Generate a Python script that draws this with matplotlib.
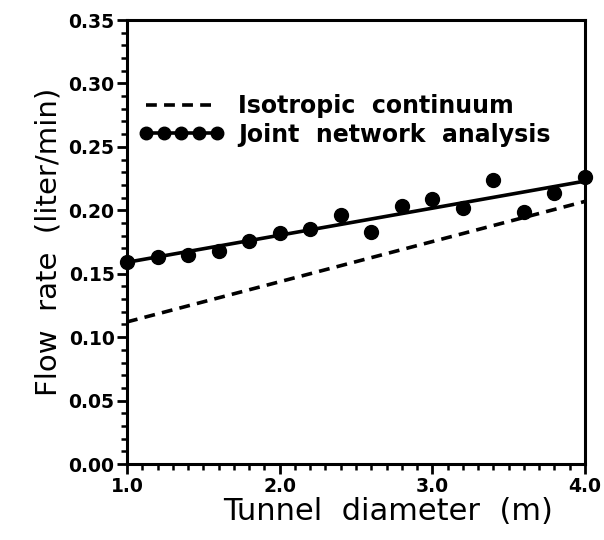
import numpy as np
import matplotlib.pyplot as plt
from matplotlib.ticker import MultipleLocator, FormatStrFormatter

# datos
diametro = [1.0, 1.2, 1.4, 1.6, 1.8, 2.0, 2.2, 2.4, 2.6, 2.8, 3.0, 3.2, 3.4, 3.6, 3.8, 4.0]
flujo_red = [0.159, 0.163, 0.165, 0.168, 0.176, 0.182, 0.185, 0.196, 0.183,
             0.203, 0.209, 0.202, 0.224, 0.199, 0.214, 0.226]
ajuste_x = [1.0, 4.0]
ajuste_red = [0.159, 0.223]
continuo_x = [1.0, 4.0]
continuo = [0.112, 0.207]

fig = plt.figure(figsize=(6.04, 5.4), dpi=100)
ax = fig.add_axes([127 / 604, 1 - 464 / 540, (585 - 127) / 604, (464 - 20) / 540])

ax.plot(continuo_x, continuo, '--', color='black', lw=2.6, dashes=(3, 2),
        label='Isotropic  continuum', clip_on=False)
ax.plot(ajuste_x, ajuste_red, '-', color='black', lw=2.6, clip_on=False)
ax.plot(diametro, flujo_red, 'o', color='black', ms=10, clip_on=False, zorder=5)
# entrada de la leyenda: linea con puntos
ax.plot([], [], '-o', color='black', lw=2.6, ms=9, label='Joint  network  analysis')

ax.set_xlim(1.0, 4.0)
ax.set_ylim(0.0, 0.35)
ax.xaxis.set_major_locator(MultipleLocator(1.0))
ax.xaxis.set_minor_locator(MultipleLocator(0.1))
ax.yaxis.set_major_locator(MultipleLocator(0.05))
ax.yaxis.set_minor_locator(MultipleLocator(0.01))
ax.xaxis.set_major_formatter(FormatStrFormatter('%.1f'))
ax.yaxis.set_major_formatter(FormatStrFormatter('%.2f'))
ax.tick_params(which='major', direction='out', length=7, width=2, labelsize=13.5, pad=2)
ax.tick_params(which='minor', direction='out', length=4, width=1.8)
for lab in ax.get_xticklabels() + ax.get_yticklabels():
    lab.set_fontweight('bold')
for s in ax.spines.values():
    s.set_linewidth(2.2)

ax.set_xlabel('Tunnel  diameter  (m)', fontsize=22, labelpad=0)
ax.xaxis.set_label_coords(0.57, -0.075)
ax.set_ylabel('Flow  rate  (liter/min)', fontsize=21, labelpad=4)

ax.legend(loc='upper left', bbox_to_anchor=(0.0, 0.86), frameon=False, numpoints=5,
          handlelength=3.6, handletextpad=0.6, labelspacing=0.2, borderpad=0,
          prop={'size': 17, 'weight': 'bold'})

plt.savefig('out.png')
